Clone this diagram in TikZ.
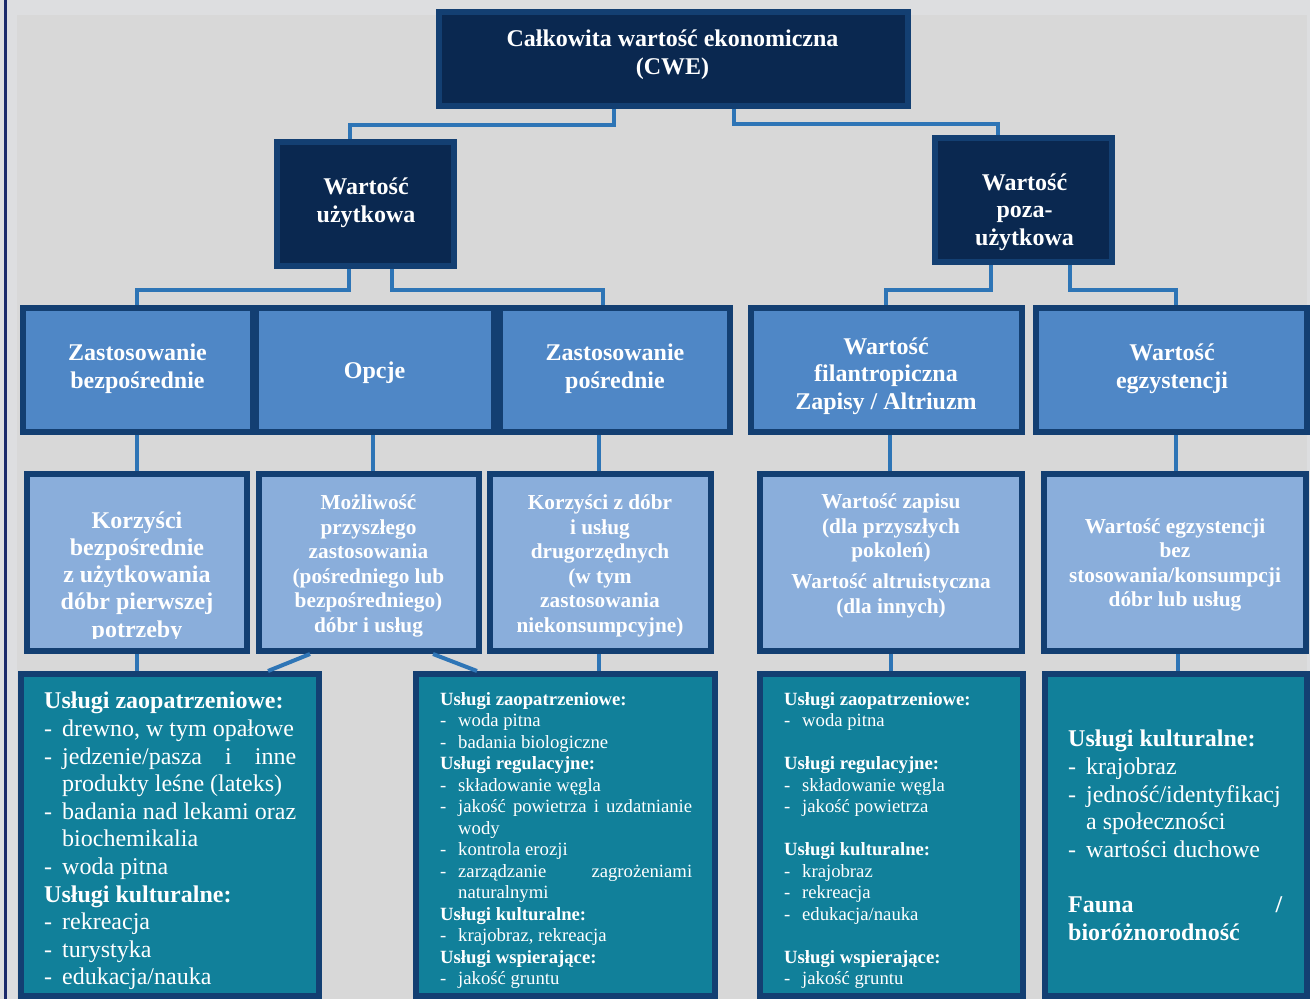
\documentclass[tikz,border=0pt]{standalone}
\usepackage{fontspec}
\setmainfont{Liberation Serif}
\definecolor{outerbg}{HTML}{DDDEE0}
\definecolor{innerbg}{HTML}{D8D8D8}
\definecolor{leftline}{HTML}{1B2A6B}
\definecolor{bordc}{HTML}{133F72}
\definecolor{navyfill}{HTML}{0A2850}
\definecolor{midfill}{HTML}{4F87C6}
\definecolor{lightfill}{HTML}{8AAEDB}
\definecolor{tealfill}{HTML}{11809A}
\definecolor{connc}{HTML}{2E75B6}
\newcommand\li[1]{\makebox[18pt][l]{-}#1}
\newcommand\lc[1]{\hspace*{18pt}#1}
\tikzset{
  box/.style={draw=bordc, line width=6pt, inner sep=0pt, rectangle},
  darkbox/.style={box, fill=navyfill},
  midbox/.style={box, fill=midfill},
  lightbox/.style={box, fill=lightfill},
  tealbox/.style={box, fill=tealfill},
  conn/.style={draw=connc, line width=4pt},
  lbl/.style={text=white, font=\bfseries\fontsize{24}{27.6}\selectfont, align=center, inner sep=0pt},
  lblsm/.style={text=white, font=\bfseries\fontsize{21.3}{24.5}\selectfont, align=center, inner sep=0pt},
  listbig/.style={text=white, font=\fontsize{24}{27.6}\selectfont, align=left, inner sep=0pt, anchor=north west},
  listsm/.style={text=white, font=\fontsize{18.7}{21.5}\selectfont, align=left, inner sep=0pt, anchor=north west},
}
\begin{document}
\begin{tikzpicture}[x=1pt,y=-1pt]
\useasboundingbox (0,0) rectangle (1310,999);
\fill[outerbg] (0,0) rectangle (1310,999);
\fill[innerbg] (17,15) rectangle (1307,999);
\fill[leftline] (4,0) rectangle (7,999);

% level 1
\node[darkbox, minimum width=469, minimum height=94] (cwe) at (673.5,59) {};
% level 2
\node[darkbox, minimum width=177, minimum height=124] (uz) at (365.5,204) {};
\node[darkbox, minimum width=177, minimum height=124] (poza) at (1023.5,200) {};
% level 3
\node[midbox, minimum width=230, minimum height=124] (r3a) at (138,370) {};
\node[midbox, minimum width=238, minimum height=124] (r3b) at (375,370) {};
\node[midbox, minimum width=230, minimum height=124] (r3c) at (615,370) {};
\node[midbox, minimum width=271, minimum height=124] (r3d) at (886.5,370) {};
\node[midbox, minimum width=271, minimum height=124] (r3e) at (1171.5,370) {};
% level 4
\node[lightbox, minimum width=220, minimum height=177] (r4a) at (137,562.5) {};
\node[lightbox, minimum width=220, minimum height=177] (r4b) at (369,562.5) {};
\node[lightbox, minimum width=221, minimum height=177] (r4c) at (600.5,562.5) {};
\node[lightbox, minimum width=262, minimum height=177] (r4d) at (891,562.5) {};
\node[lightbox, minimum width=262, minimum height=177] (r4e) at (1175,562.5) {};
% level 5
\node[tealbox, minimum width=298, minimum height=322] (r5a) at (170,835) {};
\node[tealbox, minimum width=299, minimum height=322] (r5b) at (565.5,835) {};
\node[tealbox, minimum width=263, minimum height=322] (r5c) at (891.5,835) {};
\node[tealbox, minimum width=262, minimum height=322] (r5d) at (1176,835) {};

% labels
\node[lbl] (tcwe) at (672.5,55) {Całkowita wartość ekonomiczna\\(CWE)};
\node[lbl] (tuz) at (366,203) {Wartość\\użytkowa};
\node[lbl] (tpoza) at (1024.5,212) {Wartość\\poza-\\użytkowa};
\node[lbl] (t3a) at (137.5,369) {Zastosowanie\\bezpośrednie};
\node[lbl] (t3b) at (374.5,373) {Opcje};
\node[lbl] (t3c) at (615,369) {Zastosowanie\\pośrednie};
\node[lbl] (t3d) at (886,376) {Wartość\\filantropiczna\\Zapisy / Altriuzm};
\node[lbl] (t3e) at (1172,369) {Wartość\\egzystencji};

\begin{scope}
\clip (24,471) rectangle (250,638);
\node[lbl, font=\bfseries\fontsize{24}{27.2}\selectfont] (t4a) at (137,577) {Korzyści\\bezpośrednie\\z użytkowania\\dóbr pierwszej\\potrzeby};
\end{scope}
\node[lblsm] (t4b) at (368.5,566) {Możliwość\\przyszłego\\zastosowania\\(pośredniego lub\\bezpośredniego)\\dóbr i usług};
\node[lblsm] (t4c) at (600,566) {Korzyści z dóbr\\i usług\\drugorzędnych\\(w tym\\zastosowania\\niekonsumpcyjne)};
\node[lblsm] (t4d) at (891,556) {Wartość zapisu\\(dla przyszłych\\pokoleń)\\[6.5pt]Wartość altruistyczna\\(dla innych)};
\node[lblsm] (t4e) at (1175,565) {Wartość egzystencji\\bez\\stosowania/konsumpcji\\dóbr lub usług};

% lists
\node[listbig] (t5a) at (44,692) {\textbf{Usługi zaopatrzeniowe:}\\
\li{drewno, w tym opałowe}\\
\li{\makebox[234pt][s]{jedzenie/pasza\hfill i\hfill inne}}\\
\lc{produkty leśne (lateks)}\\
\li{\makebox[234pt][s]{badania\hfill nad\hfill lekami\hfill oraz}}\\
\lc{biochemikalia}\\
\li{woda pitna}\\
\textbf{Usługi kulturalne:}\\
\li{rekreacja}\\
\li{turystyka}\\
\li{edukacja/nauka}};

\node[listsm] (t5b) at (440,692) {\textbf{Usługi zaopatrzeniowe:}\\
\li{woda pitna}\\
\li{badania biologiczne}\\
\textbf{Usługi regulacyjne:}\\
\li{składowanie węgla}\\
\li{\makebox[234pt][s]{jakość\hfill powietrza\hfill i\hfill uzdatnianie}}\\
\lc{wody}\\
\li{kontrola erozji}\\
\li{\makebox[234pt][s]{zarządzanie\hfill zagrożeniami}}\\
\lc{naturalnymi}\\
\textbf{Usługi kulturalne:}\\
\li{krajobraz, rekreacja}\\
\textbf{Usługi wspierające:}\\
\li{jakość gruntu}};

\node[listsm] (t5c) at (784,692) {\textbf{Usługi zaopatrzeniowe:}\\
\li{woda pitna}\\
~\\
\textbf{Usługi regulacyjne:}\\
\li{składowanie węgla}\\
\li{jakość powietrza}\\
~\\
\textbf{Usługi kulturalne:}\\
\li{krajobraz}\\
\li{rekreacja}\\
\li{edukacja/nauka}\\
~\\
\textbf{Usługi wspierające:}\\
\li{jakość gruntu}};

\node[listbig] (t5d) at (1068,730) {\textbf{Usługi kulturalne:}\\
\li{krajobraz}\\
\li{jedność/identyfikacj}\\
\lc{a społeczności}\\
\li{wartości duchowe}\\
~\\
\textbf{\makebox[214pt][s]{Fauna\hfill/}}\\
\textbf{bioróżnorodność}};

% connectors
\draw[conn] ([xshift=-59.5]cwe.south) -- ++(0,16) -| ([xshift=-15.5]uz.north);
\draw[conn] ([xshift=60.5]cwe.south) -- ++(0,15) -| ([xshift=-25.5]poza.north);
\draw[conn] ([xshift=-17]uz.south) -- ++(0,21) -| ([xshift=-1]r3a.north);
\draw[conn] ([xshift=26.5]uz.south) -- ++(0,21) -| ([xshift=-12]r3c.north);
\draw[conn] ([xshift=-32.5]poza.south) -- ++(0,25) -| ([xshift=-0.5]r3d.north);
\draw[conn] ([xshift=46.5]poza.south) -- ++(0,25) -| ([xshift=4.5]r3e.north);

\draw[conn] (r4a.north) -- (r4a.north |- r3a.south);
\draw[conn] ([xshift=3.5]r4b.north) -- ([xshift=3.5]r4b.north |- r3b.south);
\draw[conn] ([xshift=-2]r4c.north) -- ([xshift=-2]r4c.north |- r3c.south);
\draw[conn] ([xshift=-1]r4d.north) -- ([xshift=-1]r4d.north |- r3d.south);
\draw[conn] ([xshift=1]r4e.north) -- ([xshift=1]r4e.north |- r3e.south);

\draw[conn] (r4a.south) -- (r4a.south |- r5a.north);
\draw[conn] ([xshift=-1.5]r4c.south) -- ([xshift=-1.5]r4c.south |- r5b.north);
\draw[conn] (r4d.south) -- (r4d.south |- r5c.north);
\draw[conn] ([xshift=3]r4e.south) -- ([xshift=3]r4e.south |- r5d.north);
\draw[conn] ([xshift=-59]r4b.south) -- ([xshift=98]r5a.north);
\draw[conn] ([xshift=64]r4b.south) -- ([xshift=-88.5]r5b.north);
\end{tikzpicture}
\end{document}
